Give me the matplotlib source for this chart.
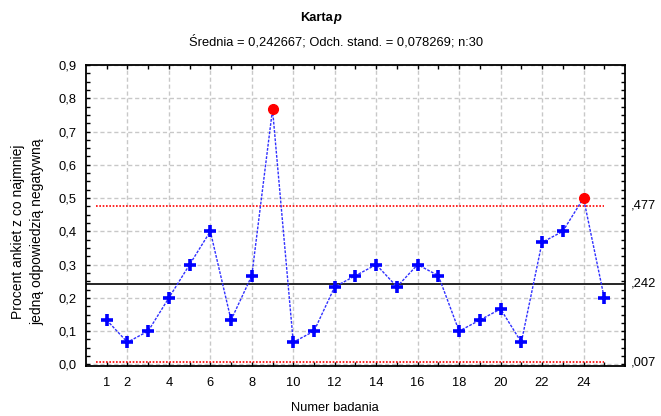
import numpy as np
import matplotlib
matplotlib.use('Agg')
import matplotlib.pyplot as plt
from matplotlib.ticker import MultipleLocator, FixedLocator

plt.rcParams['font.family'] = ['Liberation Sans', 'DejaVu Sans']
plt.rcParams['font.size'] = 9.3

# dane: liczba ankiet z odpowiedzią negatywną (n = 30) w kolejnych badaniach
badania = list(range(1, 26))
liczba_neg = [4, 2, 3, 6, 9, 12, 4, 8, 23, 2, 3, 7, 8, 9, 7, 9, 8, 3, 4, 5, 2, 11, 12, 15, 6]
n = 30
srednia = 0.242667
ucl = 0.477
lcl = 0.007
ucl_label = ',477'
cl_label = ',242'
lcl_label = ',007'
xtick_pos = [1, 2, 4, 6, 8, 10, 12, 14, 16, 18, 20, 22, 24]
ytick_pos = [0.0, 0.1, 0.2, 0.3, 0.4, 0.5, 0.6, 0.7, 0.8, 0.9]

p = np.array(liczba_neg) / n
x = np.array(badania)

fig = plt.figure(figsize=(6.61, 4.16), dpi=100)
ax = fig.add_axes([0.130, 0.120, 0.8155, 0.7238])

# siatka
for xv in xtick_pos[1:]:
    ax.axvline(xv, color='#c8c8c8', ls=(0, (3, 2)), lw=1, zorder=0)
for yv in ytick_pos:
    ax.axhline(yv, color='#c8c8c8', ls=(0, (3, 2)), lw=1, zorder=0)

# linie kontrolne
ax.axhline(srednia, color='black', lw=1.2, zorder=2)
ax.plot([0.5, 25], [ucl, ucl], color='red', ls=(0, (1, 1)), lw=1.2, zorder=2)
ax.plot([0.5, 25], [lcl, lcl], color='red', ls=(0, (1, 1)), lw=1.2, zorder=2)

# dane
ax.plot(x, p, color='#3030ff', ls=(0, (2, 1)), lw=1, zorder=3)
out = (p > ucl) | (p < lcl)
ax.plot(x[~out], p[~out], ls='none', marker='+', ms=8, mew=2.6, color='#0000ff', zorder=4)
ax.plot(x[out], p[out], ls='none', marker='o', ms=7, color='red', zorder=4)

ax.set_xlim(0, 26)
ax.set_ylim(-0.005, 0.9)
ax.set_xticks(xtick_pos)
ax.set_xticklabels([str(v) for v in xtick_pos])
ax.xaxis.set_minor_locator(FixedLocator([v for v in badania if v not in xtick_pos]))
ax.set_yticks(ytick_pos)
ax.set_yticklabels([f'{v:.1f}'.replace('.', ',') for v in ytick_pos])
ax.yaxis.set_minor_locator(MultipleLocator(0.025))
ax.tick_params(which='both', direction='in', top=True, right=True, length=3, width=1)
ax.tick_params(axis='x', which='major', pad=8)
ax.tick_params(axis='y', which='major', pad=7)
for s in ax.spines.values():
    s.set_linewidth(1.3)

# etykiety po prawej stronie
for val, lab in [(ucl, ucl_label), (srednia, cl_label), (lcl, lcl_label)]:
    ax.text(1.01, val, lab, transform=ax.get_yaxis_transform(), ha='left', va='center')

fig.text(0.507, 0.019, 'Numer badania', ha='center', va='center')
fig.text(0.0416, 0.442, 'Procent ankiet z co najmniej\njedną odpowiedzią negatywną',
         rotation=90, ha='center', va='center', multialignment='center',
         fontsize=10, linespacing=1.5)

fig.text(0.5035, 0.957, 'Karta', ha='right', va='center', fontweight='bold')
fig.text(0.5035, 0.957, 'p', ha='left', va='center', fontweight='bold', fontstyle='italic')
fig.text(0.508, 0.900, 'Średnia = 0,242667; Odch. stand. = 0,078269; n:30', ha='center', va='center')

fig.savefig('out.png', dpi=100)
